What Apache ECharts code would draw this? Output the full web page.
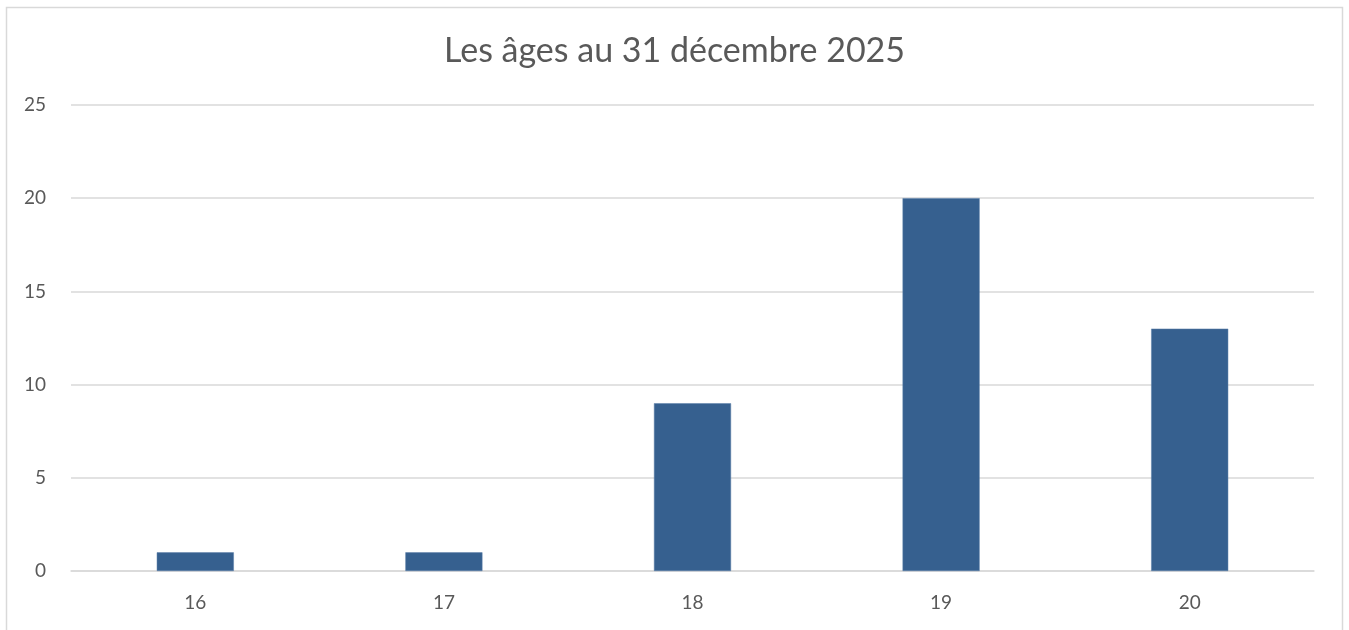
<!DOCTYPE html>
<html>
<head>
<meta charset="utf-8">
<script src="https://cdn.jsdelivr.net/npm/echarts@6/dist/echarts.min.js"></script>
<style>
    html, body { margin: 0; padding: 0; background: #fff; }
    #chart { width: 1349px; height: 630px; }
</style>
</head>
<body>
<div id="chart"></div>
<script>
var categories = ['16', '17', '18', '19', '20'];
var counts = [1, 1, 9, 20, 13];
var yTicks = [0, 5, 10, 15, 20, 25];

var mychart = echarts.init(document.getElementById('chart'));
var option = {
    backgroundColor: '#fff',
    animation: false,
    textStyle: { fontFamily: 'Lato, "Liberation Sans", sans-serif' },
    title: {
        text: 'Les âges au 31 décembre 2025',
        left: 'center',
        top: 29,
        textStyle: {
            color: '#595959',
            fontSize: 34,
            fontWeight: 'normal'
        }
    },
    // cadre gris autour du graphique
    graphic: [{
        type: 'rect',
        silent: true,
        shape: { x: 6.5, y: 7.5, width: 1336, height: 660 },
        style: { fill: 'none', stroke: '#d9d9d9', lineWidth: 1.5 }
    }],
    grid: {
        left: 71,
        right: 35,
        top: 105,
        bottom: 59
    },
    xAxis: {
        type: 'category',
        data: categories,
        axisTick: { show: false },
        axisLine: { lineStyle: { color: '#d9d9d9', width: 1.5 } },
        axisLabel: { color: '#595959', fontSize: 19, margin: 22 }
    },
    yAxis: {
        type: 'value',
        min: yTicks[0],
        max: yTicks[yTicks.length - 1],
        interval: 5,
        axisLine: { show: false },
        axisTick: { show: false },
        splitLine: { lineStyle: { color: '#d9d9d9', width: 1.5 } },
        axisLabel: { color: '#595959', fontSize: 19, margin: 25 }
    },
    series: [{
        type: 'bar',
        data: counts,
        barWidth: '31%',
        itemStyle: {
            color: '#36608f',
            borderColor: '#5a7ea8',
            borderWidth: 0.5
        }
    }]
};
mychart.setOption(option);
</script>
</body>
</html>
